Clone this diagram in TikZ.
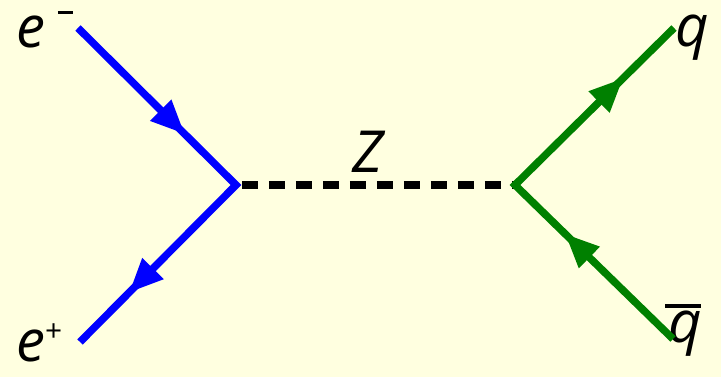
\documentclass[tikz,border=0pt]{standalone}
\usepackage{fontspec}
\setmainfont{Open Sans}
\usetikzlibrary{arrows.meta, decorations.markings}
\definecolor{bgyellow}{HTML}{FFFFE0}
\definecolor{quarkgreen}{HTML}{008000}
\newcommand{\antiq}{\makebox[0pt][l]{\hspace{-0.05em}\rule[0.6em]{0.62em}{0.08em}}q}
\newcommand{\charge}[2]{\raisebox{#1}{\fontsize{17}{20}\selectfont\upshape #2}}

\begin{document}
\begin{tikzpicture}[x=0.02cm, y=-0.02cm,
    fermion/.style={draw=#1, line width=0.15cm, line join=miter, postaction={decorate}},
    fermarrows/.style 2 args={decoration={markings,
        mark=at position #1 with {\arrow{Triangle[length=0.68cm, width=0.56cm]}},
        mark=at position #2 with {\arrow{Triangle[length=0.68cm, width=0.56cm]}}}},
    boson/.style={draw=black, line width=0.16cm, dash pattern=on 0.32cm off 0.22cm, dash phase=0.42cm},
    particle/.style={anchor=base west, inner sep=0pt, font=\fontsize{33}{40}\selectfont\itshape}
]
\fill[bgyellow] (0,0) rectangle (721,377);
\useasboundingbox (0,0) rectangle (721,377);

% vertices and external legs
\coordinate (v1) at (236,185);
\coordinate (v2) at (515,185);
\coordinate (em) at (78,28);
\coordinate (ep) at (80,342);
\coordinate (q) at (674,28);
\coordinate (qb) at (673,339);

\node[particle] (lem) at (16,48) {e\hspace{0.22em}\rule[19.5pt]{8.5pt}{1.8pt}};
\node[particle] (lep) at (16,362) {e\charge{0.36em}{+}};
\node[particle] (lq) at (675,47) {q};
\node[particle] (lqb) at (668,343) {\antiq};
\node[particle] (lz) at (352,173) {Z};

\draw[boson] (v1) -- (v2);
\draw[fermion=blue, fermarrows={0.34}{0.845}] (em) -- (v1) -- (ep);
\draw[fermion=quarkgreen, fermarrows={0.34}{0.84}] (qb) -- (v2) -- (q);
\end{tikzpicture}
\end{document}
